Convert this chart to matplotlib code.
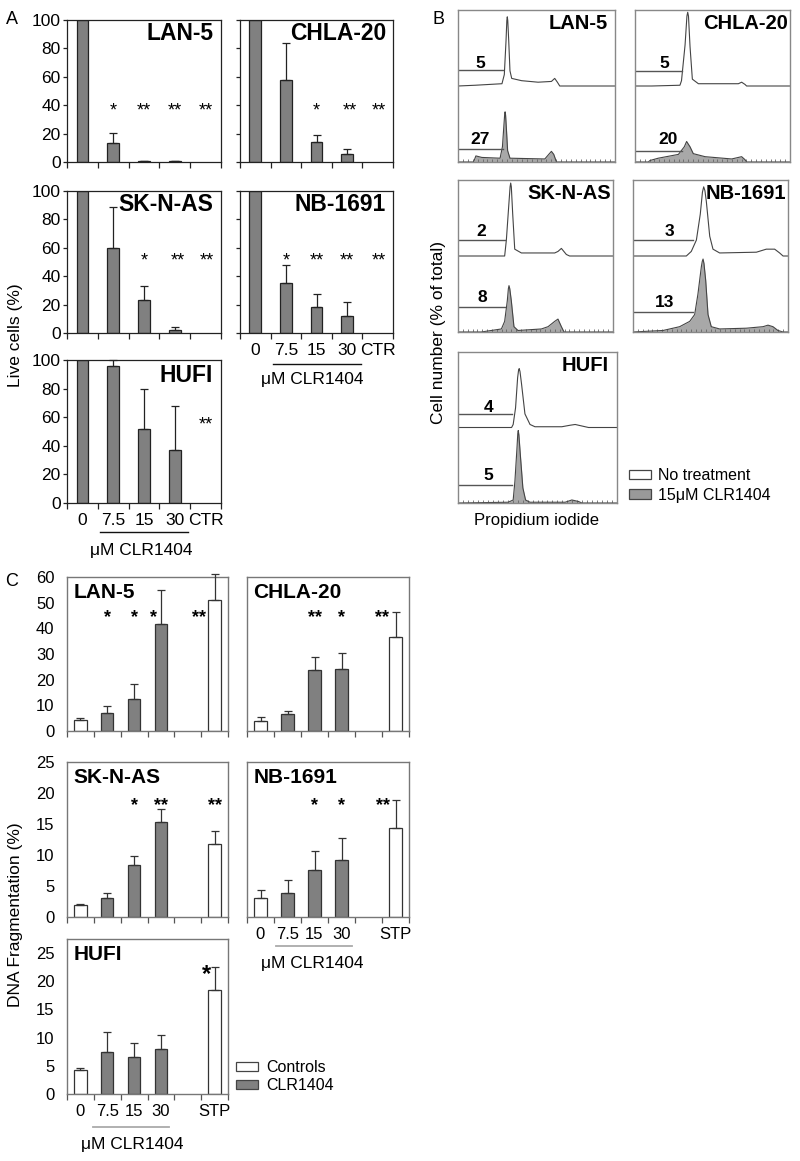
import numpy as np
import matplotlib
matplotlib.use('Agg')
import matplotlib.pyplot as plt
from matplotlib.patches import Patch
from matplotlib.transforms import blended_transform_factory

plt.rcParams['font.family'] = ['Liberation Sans', 'DejaVu Sans']

# ------------------------- DATA -------------------------
# Panel A: live cells (%)
a_doses = ["0", "7.5", "15", "30", "CTR"]
a_lan5_vals = [100, 13.5, 0.7, 0.7, 0]
a_lan5_errs = [0, 7, 0.3, 0.3, 0]
a_chla20_vals = [100, 58, 14, 5.5, 0]
a_chla20_errs = [0, 26, 5, 3.5, 0]
a_sknas_vals = [100, 60, 23, 2, 0]
a_sknas_errs = [0, 28.5, 10, 2, 0]
a_nb1691_vals = [100, 35.5, 18.5, 12, 0]
a_nb1691_errs = [0, 12.5, 9, 9.5, 0]
a_hufi_vals = [100, 96, 52, 37, 0]
a_hufi_errs = [0, 4, 27.5, 30.5, 0]

# Panel C: DNA fragmentation (%)
c_doses = ["0", "7.5", "15", "30", "", "STP"]
c_is_control = [True, False, False, False, False, True]
c_lan5_vals = [4.3, 7.0, 12.5, 41.5, 0, 51]
c_lan5_errs = [0.6, 2.6, 5.8, 13.5, 0, 10]
c_chla20_vals = [3.8, 6.7, 23.7, 24.2, 0, 36.8]
c_chla20_errs = [1.6, 0.9, 5.2, 6.2, 0, 9.7]
c_sknas_vals = [2.0, 3.0, 8.4, 15.4, 0, 11.7]
c_sknas_errs = [0.1, 0.8, 1.5, 2.0, 0, 2.2]
c_nb1691_vals = [3.0, 3.9, 7.6, 9.2, 0, 14.3]
c_nb1691_errs = [1.4, 2.0, 3.0, 3.6, 0, 4.5]
c_hufi_vals = [4.3, 7.5, 6.5, 8.0, 0, 18.5]
c_hufi_errs = [0.4, 3.5, 2.5, 2.5, 0, 4.0]

# Panel B: PI histograms (x = fraction of channel range, h = fraction of max)
b_lan5_top_x = [0, 0.11, 0.28, 0.295, 0.306, 0.311, 0.314, 0.317, 0.323, 0.331, 0.342, 0.405, 0.51, 0.595, 0.616, 0.633, 0.648, 1.0]
b_lan5_top_h = [0, 0.01, 0.03, 0.15, 0.6, 0.86, 0.91, 0.86, 0.6, 0.2, 0.1, 0.07, 0.05, 0.06, 0.1, 0.05, 0, 0]
b_lan5_bot_x = [0, 0.099, 0.114, 0.152, 0.268, 0.283, 0.293, 0.297, 0.3, 0.303, 0.308, 0.316, 0.331, 0.553, 0.578, 0.595, 0.61, 0.627, 1.0]
b_lan5_bot_h = [0, 0, 0.08, 0.06, 0.05, 0.2, 0.5, 0.62, 0.66, 0.62, 0.45, 0.15, 0.05, 0.04, 0.1, 0.14, 0.1, 0, 0]
b_lan5_gates = [5, 27]

b_chla20_top_x = [0, 0.108, 0.29, 0.30, 0.323, 0.335, 0.34, 0.345, 0.355, 0.37, 0.409, 0.667, 0.688, 0.71, 0.72, 1.0]
b_chla20_top_h = [0, 0, 0.01, 0.07, 0.54, 0.92, 0.97, 0.92, 0.52, 0.09, 0.03, 0.03, 0.05, 0.02, 0, 0]
b_chla20_bot_x = [0, 0.086, 0.097, 0.15, 0.28, 0.318, 0.333, 0.355, 0.376, 0.452, 0.624, 0.688, 0.71, 0.72, 1.0]
b_chla20_bot_h = [0, 0, 0.02, 0.05, 0.1, 0.2, 0.27, 0.2, 0.11, 0.07, 0.04, 0.07, 0.03, 0, 0]
b_chla20_gates = [5, 20]

b_sknas_top_x = [0, 0.301, 0.312, 0.327, 0.336, 0.34, 0.344, 0.353, 0.366, 0.409, 0.624, 0.645, 0.667, 0.699, 0.72, 1.0]
b_sknas_top_h = [0, 0, 0.21, 0.65, 0.91, 0.96, 0.91, 0.55, 0.09, 0.04, 0.04, 0.06, 0.1, 0.02, 0, 0]
b_sknas_bot_x = [0, 0.15, 0.28, 0.301, 0.318, 0.325, 0.329, 0.334, 0.344, 0.361, 0.387, 0.538, 0.581, 0.624, 0.645, 0.667, 0.684, 1.0]
b_sknas_bot_h = [0, 0, 0.04, 0.14, 0.41, 0.57, 0.61, 0.57, 0.41, 0.07, 0.02, 0.04, 0.07, 0.14, 0.17, 0.07, 0, 0]
b_sknas_gates = [2, 8]

b_nb1691_top_x = [0, 0.344, 0.376, 0.409, 0.434, 0.448, 0.456, 0.464, 0.473, 0.495, 0.516, 0.559, 0.796, 0.86, 0.914, 0.946, 0.968, 1.0]
b_nb1691_top_h = [0, 0, 0.06, 0.21, 0.55, 0.84, 0.91, 0.86, 0.72, 0.26, 0.09, 0.04, 0.05, 0.09, 0.09, 0.04, 0, 0]
b_nb1691_bot_x = [0, 0.194, 0.301, 0.366, 0.398, 0.419, 0.441, 0.447, 0.452, 0.458, 0.469, 0.484, 0.505, 0.559, 0.731, 0.839, 0.871, 0.903, 0.935, 0.968, 1.0]
b_nb1691_bot_h = [0, 0.02, 0.07, 0.14, 0.23, 0.5, 0.86, 0.93, 0.96, 0.9, 0.68, 0.23, 0.07, 0.04, 0.05, 0.07, 0.09, 0.07, 0.02, 0, 0]
b_nb1691_gates = [3, 13]

b_hufi_top_x = [0, 0.337, 0.347, 0.362, 0.375, 0.381, 0.385, 0.39, 0.4, 0.421, 0.453, 0.484, 0.653, 0.705, 0.737, 0.779, 0.821, 1.0]
b_hufi_top_h = [0, 0, 0.04, 0.26, 0.66, 0.76, 0.78, 0.74, 0.57, 0.18, 0.04, 0.01, 0.01, 0.03, 0.04, 0.02, 0, 0]
b_hufi_bot_x = [0, 0.316, 0.347, 0.358, 0.371, 0.376, 0.379, 0.383, 0.392, 0.408, 0.425, 0.453, 0.674, 0.716, 0.758, 0.779, 1.0]
b_hufi_bot_h = [0, 0.01, 0.04, 0.29, 0.73, 0.92, 0.96, 0.9, 0.64, 0.2, 0.04, 0.01, 0.01, 0.04, 0.02, 0, 0]
b_hufi_gates = [4, 5]

# ------------------------- LAYOUT -------------------------
W, H = 800, 1161
fig = plt.figure(figsize=(W / 100, H / 100), dpi=100)
DARK = '#808080'
EDGE = '#222222'


def add_ax(l, t, r, b):
    return fig.add_axes([l / W, 1 - b / H, (r - l) / W, (b - t) / H])


def unclip(container):
    for grp in container.lines:
        if grp is None:
            continue
        items = grp if isinstance(grp, (tuple, list)) else [grp]
        for it in items:
            it.set_clip_on(False)


def draw_a(box, vals, errs, title, tpos, stars, ylab, xlab, under=None):
    ax = add_ax(*box)
    n = len(a_doses)
    for i in range(n):
        if vals[i] > 0:
            ax.bar(i, vals[i], width=0.38, color=DARK, edgecolor=EDGE, linewidth=0.9, zorder=2)
        if errs[i] > 0:
            eb = ax.errorbar(i, vals[i], yerr=[[0], [errs[i]]], fmt='none', ecolor=EDGE,
                             elinewidth=0.9, capsize=3.2, capthick=0.9, zorder=3)
            unclip(eb)
    ax.set_xlim(-0.5, n - 0.5)
    ax.set_ylim(0, 100)
    ax.set_yticks(np.arange(0, 101, 20))
    ax.set_xticks(np.arange(-0.5, n, 1))
    ax.set_xticklabels([])
    ax.tick_params(axis='x', which='major', direction='out', length=4, width=0.9, color=EDGE)
    ax.tick_params(axis='y', direction='out', length=3, width=0.9, color=EDGE,
                   labelsize=12.5, pad=1.5, labelleft=ylab)
    if xlab:
        ax.set_xticks(np.arange(n), labels=a_doses, minor=True)
        ax.tick_params(axis='x', which='minor', length=0, labelsize=12.5, pad=7)
    for s in ax.spines.values():
        s.set_color(EDGE)
        s.set_linewidth(0.9)
    ax.text(tpos[0], tpos[1], title, transform=ax.transAxes, ha='right', va='center',
            fontsize=16.5, fontweight='bold')
    for txt, xi, yi in stars:
        ax.text(xi, yi, txt, ha='center', va='center', fontsize=13)
    if under is not None:
        tr = blended_transform_factory(ax.transData, ax.transAxes)
        ax.plot([under[0], under[1]], [under[2], under[2]], color='#111111', lw=1.0,
                transform=tr, clip_on=False)
        ax.text(under[3], under[4], 'μM CLR1404', transform=tr, ha='center', va='center',
                fontsize=12.5)
    return ax


def draw_c(box, vals, errs, ylim, yticks, title, stars, ylab, xlab, under=None):
    ax = add_ax(*box)
    n = len(c_doses)
    for i in range(n):
        if vals[i] > 0:
            fc = 'white' if c_is_control[i] else DARK
            ax.bar(i, vals[i], width=0.46, color=fc, edgecolor='#333333', linewidth=0.9, zorder=2)
            eb = ax.errorbar(i, vals[i], yerr=[[0], [errs[i]]], fmt='none', ecolor='#333333',
                             elinewidth=0.9, capsize=3.2, capthick=0.9, zorder=3)
            unclip(eb)
    ax.set_xlim(-0.5, n - 0.5)
    ax.set_ylim(*ylim)
    ax.set_yticks(yticks)
    ax.set_xticks(np.arange(-0.5, n, 1))
    ax.set_xticklabels([])
    ax.tick_params(axis='x', which='major', direction='out', length=4, width=0.9, color='#555555')
    ax.tick_params(axis='y', length=0, labelsize=12, pad=9, labelleft=ylab)
    if xlab:
        ax.set_xticks(np.arange(n), labels=c_doses, minor=True)
        ax.tick_params(axis='x', which='minor', length=0, labelsize=12, pad=7)
    for s in ax.spines.values():
        s.set_color('#777777')
        s.set_linewidth(1.0)
    ax.text(0.04, 0.9, title, transform=ax.transAxes, ha='left', va='center',
            fontsize=15, fontweight='bold')
    for txt, xi, yi, fs in stars:
        ax.text(xi, yi, txt, ha='center', va='center', fontsize=fs, fontweight='bold')
    if under is not None:
        tr = blended_transform_factory(ax.transData, ax.transAxes)
        ax.plot([under[0], under[1]], [under[2], under[2]], color='#aaaaaa', lw=1.3,
                transform=tr, clip_on=False)
        ax.text(under[3], under[4], 'μM CLR1404', transform=tr, ha='center', va='center',
                fontsize=12.5)
    return ax


def draw_b(box, tx, th, bx, bh, gates, gate_geo, title, title_x):
    ax = add_ax(*box)
    ax.set_xlim(0, 1)
    ax.set_ylim(0, 2.0)
    ax.fill_between(bx, 0, bh, color='#a8a8a8', lw=0, zorder=1)
    ax.plot(bx, bh, color='#444444', lw=0.8, zorder=2)
    ax.plot(tx, 1 + np.array(th), color='#444444', lw=0.8, zorder=2)
    # gates: (top level, bottom level, end x, label x top, label y top, label x bot, label y bot)
    gtop, gbot, gend, lxt, lyt, lxb, lyb = gate_geo
    ax.plot([0, gend], [1 + gtop, 1 + gtop], color='#555555', lw=1.0)
    ax.plot([0, gend], [gbot, gbot], color='#555555', lw=1.0)
    ax.text(lxt, 1 + lyt, str(gates[0]), ha='center', va='center', fontsize=12.5, fontweight='bold')
    ax.text(lxb, lyb, str(gates[1]), ha='center', va='center', fontsize=12.5, fontweight='bold')
    ax.set_yticks([])
    ax.set_xticks([])
    ax.set_xticks(np.linspace(0, 1, 33), minor=True)
    ax.tick_params(axis='x', which='minor', direction='in', length=2, width=0.6, color='#666666')
    for s in ax.spines.values():
        s.set_color('#888888')
        s.set_linewidth(1.0)
    ax.text(title_x, 0.91, title, transform=ax.transAxes, ha='right', va='center',
            fontsize=14.5, fontweight='bold')
    return ax


# ---- Panel A ----
draw_a((67, 20, 221, 162), a_lan5_vals, a_lan5_errs, 'LAN-5', (0.95, 0.905),
       [('*', 1, 36), ('**', 2, 36), ('**', 3, 36), ('**', 4, 36)], True, False)
draw_a((240, 20, 393, 162), a_chla20_vals, a_chla20_errs, 'CHLA-20', (0.955, 0.905),
       [('*', 2, 36), ('**', 3.1, 36), ('**', 4.05, 36)], False, False)
draw_a((67, 191, 221, 333), a_sknas_vals, a_sknas_errs, 'SK-N-AS', (0.95, 0.905),
       [('*', 2, 50.5), ('**', 3.1, 50.5), ('**', 4.05, 50.5)], True, False)
draw_a((240, 191, 393, 333), a_nb1691_vals, a_nb1691_errs, 'NB-1691', (0.955, 0.905),
       [('*', 1, 50.5), ('**', 2, 50.5), ('**', 3, 50.5), ('**', 4.05, 50.5)], False, True,
       under=(0.58, 3.45, -0.218, 1.85, -0.33))
draw_a((67, 360, 221, 503), a_hufi_vals, a_hufi_errs, 'HUFI', (0.95, 0.895),
       [('**', 4.0, 54.5)], True, True,
       under=(0.57, 3.43, -0.203, 1.9, -0.33))

# ---- Panel C ----
draw_c((67, 577, 228, 731), c_lan5_vals, c_lan5_errs, (0, 60), np.arange(0, 61, 10), 'LAN-5',
       [('*', 1, 44, 13), ('*', 2, 44, 13), ('*', 2.72, 44, 13), ('**', 4.43, 44, 13)],
       True, False)
draw_c((247, 577, 409, 731), c_chla20_vals, c_chla20_errs, (0, 60), np.arange(0, 61, 10), 'CHLA-20',
       [('**', 2, 44, 13), ('*', 3, 44, 13), ('**', 4.5, 44, 13)], False, False)
draw_c((67, 762, 228, 917), c_sknas_vals, c_sknas_errs, (0, 25), np.arange(0, 26, 5), 'SK-N-AS',
       [('*', 2, 18.0, 13), ('**', 3, 18.0, 13), ('**', 5, 18.0, 13)], True, False)
draw_c((247, 762, 409, 917), c_nb1691_vals, c_nb1691_errs, (0, 25), np.arange(0, 26, 5), 'NB-1691',
       [('*', 2, 18.0, 13), ('*', 3, 18.0, 13), ('**', 4.54, 18.0, 13)], False, True,
       under=(0.57, 3.39, -0.187, 1.9, -0.303))
draw_c((67, 939, 228, 1094), c_hufi_vals, c_hufi_errs, (0, 27.5), np.arange(0, 26, 5), 'HUFI',
       [('*', 4.69, 21.2, 17)], True, True,
       under=(0.47, 3.3, -0.213, 1.93, -0.329))

# ---- Panel B ----
draw_b((458, 10, 615, 162), b_lan5_top_x, b_lan5_top_h, b_lan5_bot_x, b_lan5_bot_h, b_lan5_gates,
       (0.21, 0.17, 0.289, 0.14, 0.30, 0.14, 0.29), 'LAN-5', 0.955)
draw_b((635, 10, 790, 162), b_chla20_top_x, b_chla20_top_h, b_chla20_bot_x, b_chla20_bot_h, b_chla20_gates,
       (0.20, 0.15, 0.30, 0.19, 0.29, 0.215, 0.29), 'CHLA-20', 0.985)
draw_b((458, 180, 613, 332), b_sknas_top_x, b_sknas_top_h, b_sknas_bot_x, b_sknas_bot_h, b_sknas_gates,
       (0.21, 0.33, 0.305, 0.15, 0.32, 0.16, 0.45), 'SK-N-AS', 0.985)
draw_b((633, 180, 788, 332), b_nb1691_top_x, b_nb1691_top_h, b_nb1691_bot_x, b_nb1691_bot_h, b_nb1691_gates,
       (0.21, 0.26, 0.385, 0.237, 0.32, 0.204, 0.39), 'NB-1691', 0.985)
draw_b((458, 352, 617, 503), b_hufi_top_x, b_hufi_top_h, b_hufi_bot_x, b_hufi_bot_h, b_hufi_gates,
       (0.18, 0.24, 0.341, 0.19, 0.27, 0.19, 0.36), 'HUFI', 0.945)

# ---- Labels ----
fig.text(12 / W, 1 - 20 / H, 'A', fontsize=13, ha='center', va='center')
fig.text(438 / W, 1 - 19 / H, 'B', fontsize=13, ha='center', va='center')
fig.text(12 / W, 1 - 582 / H, 'C', fontsize=13, ha='center', va='center')
fig.text(16 / W, 1 - 335 / H, 'Live cells (%)', rotation=90, fontsize=12.5, ha='center', va='center')
fig.text(16 / W, 1 - 915 / H, 'DNA Fragmentation (%)', rotation=90, fontsize=12.5, ha='center', va='center')
fig.text(438 / W, 1 - 332 / H, 'Cell number (% of total)', rotation=90, fontsize=12.5, ha='center', va='center')
fig.text(537 / W, 1 - 520 / H, 'Propidium iodide', fontsize=12, ha='center', va='center')

# ---- Legends ----
fig.legend(handles=[Patch(facecolor='white', edgecolor='#444444', lw=0.9),
                    Patch(facecolor='#999999', edgecolor='#444444', lw=0.9)],
           labels=['No treatment', '15μM CLR1404'], loc='upper left',
           bbox_to_anchor=(629 / W, 1 - 468 / H), frameon=False, fontsize=11.5,
           handlelength=1.35, handleheight=0.55, handletextpad=0.45, labelspacing=0.3,
           borderpad=0, borderaxespad=0)
fig.legend(handles=[Patch(facecolor='white', edgecolor='#444444', lw=0.9),
                    Patch(facecolor=DARK, edgecolor='#444444', lw=0.9)],
           labels=['Controls', 'CLR1404'], loc='upper left',
           bbox_to_anchor=(236 / W, 1 - 1060 / H), frameon=False, fontsize=11.5,
           handlelength=1.4, handleheight=0.55, handletextpad=0.5, labelspacing=0.2,
           borderpad=0, borderaxespad=0)

fig.savefig('out.png', dpi=100)
